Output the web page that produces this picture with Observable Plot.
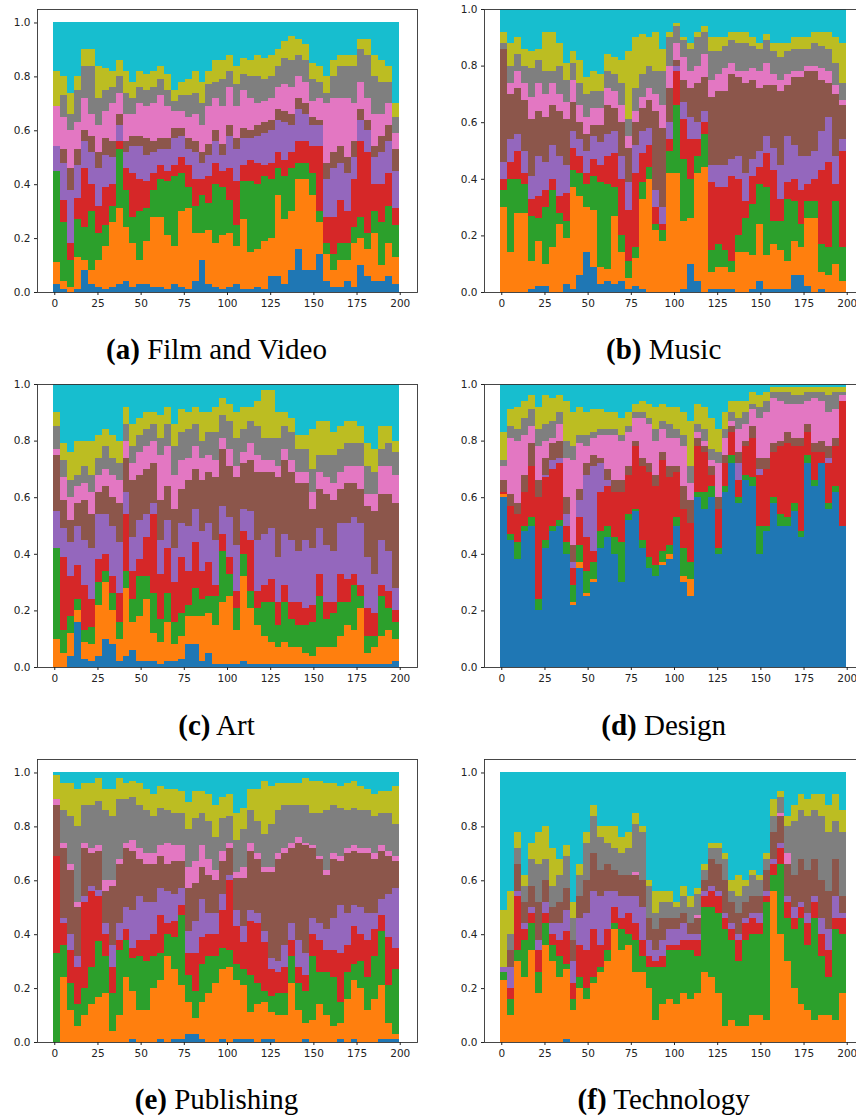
<!DOCTYPE html>
<html><head><meta charset="utf-8">
<script src="https://cdn.jsdelivr.net/npm/d3@7"></script>
<script src="https://cdn.jsdelivr.net/npm/@observablehq/plot@0.6"></script>
<style>
html,body{margin:0;padding:0;background:#fff}
body{position:relative;width:856px;height:1117px;overflow:hidden}
.p{position:absolute}
.c{position:absolute;font-family:"Liberation Serif",serif;font-size:29px;color:#000;white-space:nowrap;transform:translateX(-50%);line-height:32px}
.c b{font-weight:700}
</style></head><body>
<script>
const seriesNames = ["t0","t1","t2","t3","t4","t5","t6","t7","t8","t9"];
const seriesColors = ["#1f77b4","#ff7f0e","#2ca02c","#d62728","#9467bd","#8c564b","#e377c2","#7f7f7f","#bcbd22","#17becf"];
const xTicks = [0,25,50,75,100,125,150,175,200];
const yTicks = [0,0.2,0.4,0.6,0.8,1];
const columnStep = 4;

const film = [[3,8,34,0,9,0,15,0,13,18],[1,3,22,8,14,5,12,8,7,20],[0,2,10,6,20,8,14,6,8,26],[1,12,14,8,12,6,10,12,5,20],[8,4,12,22,10,4,12,12,6,10],[3,5,22,10,12,6,8,18,6,10],[2,10,10,10,14,6,10,10,12,16],[1,16,8,14,12,6,10,8,8,17],[2,24,6,8,10,6,14,6,6,18],[3,28,22,3,6,4,8,6,6,14],
[4,20,14,8,6,4,10,8,8,18],[2,16,10,16,10,4,8,6,6,22],[3,9,18,12,12,4,12,6,6,18],[3,16,12,10,10,6,12,6,6,19],[2,26,10,6,8,4,14,6,6,18],[2,26,14,5,6,4,16,6,5,16],[1,20,20,4,8,4,12,6,6,19],[3,14,26,4,10,4,6,4,4,25],[2,28,14,6,8,3,6,6,5,22],[1,30,8,8,6,4,8,8,6,21],
[4,18,10,10,10,4,10,8,8,18],[12,10,14,6,6,4,10,8,8,22],[3,20,10,10,8,4,14,8,5,18],[2,16,22,8,8,4,12,6,8,14],[1,20,18,6,6,4,14,10,7,14],[2,20,12,12,12,4,14,6,6,12],[3,14,8,16,12,4,12,8,7,16],[1,26,14,6,10,4,14,6,6,13],[1,14,26,8,8,3,12,8,6,14],[2,14,24,8,10,4,8,10,8,12],
[1,18,24,4,12,4,8,8,8,13],[6,14,22,6,12,4,8,8,8,12],[6,30,10,6,12,4,8,8,6,10],[3,24,16,6,14,4,10,10,6,7],[8,22,16,6,10,4,10,10,9,5],[16,26,6,8,12,4,8,8,6,6],[8,34,6,8,10,4,8,8,6,8],[8,28,8,10,8,3,6,8,6,15],[14,12,4,24,8,2,8,6,6,16],[4,10,4,10,14,6,22,4,6,20],
[2,6,6,14,18,6,20,8,6,14],[2,10,6,16,14,6,18,12,4,12],[4,8,6,12,14,6,22,12,4,12],[2,16,6,18,8,6,14,14,4,12],[10,10,8,28,8,4,10,12,4,6],[6,10,6,30,8,4,8,16,6,6],[4,18,8,10,10,4,12,14,8,12],[4,6,16,14,12,6,8,12,8,14],[6,12,14,12,12,6,8,8,6,16],[3,10,12,6,14,8,6,6,5,30]];

const music = [[0,30,6,4,6,40,0,2,4,8],[0,14,26,6,8,16,4,6,8,12],[0,28,12,10,6,16,6,6,6,10],[0,28,10,4,8,18,6,6,6,14],[1,10,16,6,8,20,8,10,6,15],[2,16,8,8,14,16,10,8,4,14],[2,8,20,6,10,16,8,8,14,8],[0,16,20,4,12,14,8,4,14,8],[0,24,4,6,14,16,6,10,8,12],[3,16,6,10,10,16,6,8,6,19],
[1,36,6,8,6,10,8,6,4,15],[6,28,8,6,6,6,6,8,8,18],[14,16,8,4,8,6,6,8,6,24],[9,20,12,6,8,4,6,6,7,22],[3,6,30,6,8,6,6,6,6,23],[4,4,30,10,8,10,6,6,6,16],[3,24,10,12,8,8,6,6,6,17],[4,10,6,20,8,12,6,8,8,18],[1,4,6,18,10,12,4,6,24,15],[2,10,4,26,10,8,4,8,18,10],
[1,32,6,10,8,8,4,8,14,9],[0,40,4,8,6,10,4,8,10,10],[0,22,2,6,6,28,6,8,14,8],[0,18,4,2,6,28,8,12,8,14],[0,42,8,4,6,12,8,10,2,8],[0,42,24,12,2,2,6,6,1,5],[1,24,22,14,6,8,8,6,1,10],[10,16,14,14,8,10,6,8,2,12],[4,38,6,6,6,14,6,10,2,8],[0,44,12,4,4,12,8,8,2,6],
[1,6,8,24,6,24,6,10,5,10],[1,8,8,20,8,26,6,8,5,10],[1,8,6,22,8,26,8,8,3,10],[1,6,4,30,6,30,4,8,3,8],[0,14,6,20,8,28,2,10,4,8],[0,14,12,6,10,32,4,10,4,8],[1,12,18,10,6,28,4,8,3,10],[4,20,14,6,6,22,6,8,2,12],[1,12,24,12,6,18,8,8,2,9],[1,16,8,18,8,22,4,8,3,12],
[1,14,10,8,12,26,4,8,5,12],[1,10,22,6,16,18,4,8,3,12],[6,12,14,8,12,24,2,8,4,10],[6,10,8,12,12,28,2,8,4,10],[2,24,6,6,10,30,2,6,4,10],[0,26,6,8,10,28,2,8,4,8],[1,6,10,26,14,18,4,8,5,8],[0,6,10,30,16,12,4,8,6,8],[0,10,22,6,10,22,3,8,9,10],[0,4,12,34,4,12,2,6,14,12]];

const art = [[0,10,32,0,13,20,2,8,5,10],[0,5,8,26,10,10,8,6,6,21],[4,8,6,14,12,8,8,6,10,24],[16,4,4,12,14,8,6,4,12,20],[3,6,4,16,16,14,6,6,9,20],[2,6,6,10,18,12,8,6,12,20],[4,18,8,8,16,8,6,6,8,18],[10,20,4,6,14,10,6,8,6,16],[8,12,6,6,18,10,8,6,8,18],[2,8,6,10,18,14,8,6,8,20],
[4,24,6,20,8,12,6,6,6,8],[6,10,8,10,12,20,6,6,8,14],[2,16,14,6,14,16,8,6,6,12],[2,22,8,14,8,16,8,6,6,10],[2,10,14,28,4,14,8,6,4,10],[1,8,8,16,12,14,16,6,8,11],[2,14,10,16,10,12,14,8,6,8],[2,6,8,14,12,14,12,10,8,14],[3,8,8,20,12,12,10,10,8,9],[8,10,4,12,16,16,8,10,6,10],
[8,10,10,16,12,14,8,8,6,8],[2,16,6,10,14,18,8,6,10,10],[5,14,6,12,14,18,6,8,7,10],[1,14,10,4,16,22,6,10,9,8],[1,22,18,6,10,20,4,8,6,5],[1,24,8,6,14,18,6,10,6,7],[1,12,8,6,16,24,4,10,9,10],[2,30,8,8,8,16,4,8,8,8],[1,20,6,18,10,18,6,8,5,8],[1,14,6,6,18,24,6,10,9,6],
[1,10,12,6,18,22,4,8,17,2],[1,8,14,8,18,20,4,8,17,2],[1,6,8,8,16,28,4,10,9,10],[1,8,14,6,18,26,4,8,5,10],[1,6,10,6,22,24,4,10,5,12],[1,6,8,8,18,24,4,8,5,18],[1,4,10,6,24,20,4,8,5,18],[1,3,12,6,20,14,6,8,14,16],[1,6,18,8,16,14,6,6,12,13],[1,6,10,6,20,18,6,8,12,13],
[1,6,12,4,18,18,6,10,8,17],[1,10,12,10,18,12,6,8,8,15],[1,14,8,8,20,14,6,8,8,13],[1,12,16,4,20,12,6,8,8,13],[1,20,4,4,22,12,8,8,6,15],[1,4,6,10,18,18,4,10,8,21],[1,6,4,8,14,22,6,8,8,23],[1,10,14,4,16,16,10,6,8,15],[1,12,8,6,14,20,10,8,6,15],[2,8,6,4,8,30,10,8,4,20]];

const design = [[60,1,0,1,0,4,5,2,10,17],[45,0,2,10,0,4,20,4,6,9],[38,0,6,10,0,4,22,4,8,8],[48,0,2,12,0,6,14,6,6,6],[50,0,3,18,0,8,6,6,5,4],[20,0,4,36,0,6,12,6,8,8],[42,0,3,22,1,6,6,6,10,4],[48,0,2,20,3,6,2,6,8,5],[50,0,2,20,2,6,6,4,6,4],[40,0,4,6,4,6,14,6,14,6],
[22,1,6,6,2,6,30,5,12,10],[35,2,6,10,6,4,16,3,10,8],[25,1,8,12,22,4,6,4,8,10],[30,1,6,4,30,4,6,2,8,9],[42,0,6,14,10,2,8,2,7,9],[46,0,4,14,2,4,12,2,6,10],[40,0,6,16,0,4,16,2,6,10],[30,0,14,18,0,4,14,2,6,12],[52,0,2,14,0,3,12,2,5,10],[55,0,1,22,0,2,8,2,3,7],
[42,0,3,26,0,3,14,2,4,6],[35,0,4,30,0,3,14,2,5,7],[32,0,4,28,0,4,12,4,8,8],[36,1,4,32,0,3,8,3,6,7],[38,2,3,24,0,4,10,5,6,8],[50,0,3,16,0,2,10,3,8,8],[30,2,10,14,0,8,14,4,8,10],[25,6,6,14,0,8,6,6,16,13],[60,0,2,16,0,3,2,3,7,7],[56,0,6,14,0,2,2,4,8,8],
[60,0,4,4,0,3,2,4,11,12],[40,0,2,14,0,4,12,4,8,16],[62,0,2,8,0,3,6,3,6,10],[72,0,3,8,0,2,2,3,4,6],[58,0,2,6,6,4,8,4,6,6],[66,0,2,10,0,2,6,4,4,6],[64,0,3,14,0,4,6,2,4,3],[40,0,10,18,2,4,14,4,4,4],[48,0,2,20,0,4,16,4,3,3],[58,0,2,16,0,3,16,2,2,1],
[50,0,4,24,0,2,14,3,2,1],[50,0,3,26,0,4,10,4,2,1],[55,0,3,20,0,3,12,3,3,1],[46,0,2,30,0,3,12,3,3,1],[72,0,3,8,0,3,8,3,2,1],[64,0,2,10,0,3,16,2,2,1],[72,0,0,4,0,4,14,3,2,1],[56,0,2,14,2,4,12,6,3,1],[62,0,2,14,0,3,10,6,2,1],[50,0,0,44,0,0,2,1,2,1]];

const publishing = [[0,0,33,36,0,19,2,0,9,1],[0,24,12,8,2,26,2,12,10,4],[0,12,10,12,6,24,2,18,12,4],[0,6,8,14,4,18,2,28,14,6],[0,10,10,32,2,18,2,14,8,4],[0,14,14,28,2,12,2,16,8,4],[0,16,20,16,2,14,2,16,8,2],[0,18,14,8,4,12,4,26,8,6],[0,4,14,10,8,22,2,24,10,6],[0,10,24,4,6,22,2,22,8,2],
[0,24,14,4,8,22,2,16,6,4],[1,18,12,4,14,22,4,16,6,3],[0,12,20,6,16,14,4,16,8,4],[0,12,18,8,14,14,4,16,8,6],[0,20,12,8,12,14,4,14,8,8],[1,22,10,14,10,12,4,14,8,5],[0,32,8,4,12,10,8,12,8,6],[1,26,12,6,10,12,6,12,9,6],[1,20,26,4,6,10,6,12,8,7],[3,12,10,8,8,16,8,14,10,11],
[3,6,10,14,12,14,8,16,10,7],[1,14,14,10,14,12,8,12,8,7],[0,18,14,8,8,14,6,14,10,8],[0,22,10,8,8,12,4,12,12,12],[1,26,8,14,6,12,4,12,8,9],[0,28,6,26,2,10,2,10,8,8],[1,22,6,14,6,12,2,12,10,15],[1,20,6,10,6,18,4,14,8,13],[1,10,14,20,4,22,3,12,8,6],[0,14,8,22,4,20,2,12,12,6],
[1,14,4,18,4,22,2,12,20,3],[1,10,6,10,4,32,2,16,14,5],[0,10,8,8,4,38,2,16,10,4],[0,10,8,10,8,34,2,16,8,4],[0,22,10,6,6,28,2,14,8,4],[0,12,10,6,10,36,2,12,8,4],[1,6,12,6,8,40,1,14,10,2],[0,8,24,8,6,26,1,12,12,3],[0,14,12,12,6,24,1,16,12,3],[0,10,16,8,8,20,2,22,10,4],
[0,6,18,10,12,22,2,18,8,4],[1,6,8,18,18,16,2,18,8,5],[0,16,10,10,12,22,2,14,10,4],[1,22,6,14,8,20,2,14,10,3],[0,20,10,10,10,20,2,14,9,5],[0,12,12,14,10,22,2,14,8,6],[0,16,16,10,6,20,2,14,8,8],[1,20,20,6,6,18,2,12,8,7],[1,6,14,18,16,14,2,14,8,7],[1,2,24,8,22,10,2,12,14,5]];

const technology = [[0,23,3,0,2,0,0,0,21,51],[0,10,6,4,8,6,0,6,16,44],[0,30,4,20,2,10,0,6,6,22],[0,24,14,4,2,8,0,6,4,38],[0,34,10,4,2,8,0,10,6,26],[0,18,8,8,4,14,0,14,12,22],[0,36,8,4,4,8,0,8,12,20],[0,30,6,4,4,6,0,8,14,28],[0,24,8,6,6,8,0,10,6,32],[1,26,2,12,8,8,0,12,4,27],
[0,12,4,6,8,8,0,8,6,48],[0,20,4,12,10,8,0,8,4,34],[0,16,4,14,14,12,0,14,4,22],[0,22,2,18,14,14,0,14,4,12],[0,26,2,8,18,10,0,12,4,20],[0,30,4,8,14,10,0,8,6,20],[0,42,2,6,6,8,0,8,8,20],[0,34,8,4,8,8,0,8,6,24],[0,36,4,8,6,8,0,10,6,22],[0,26,12,6,10,8,1,18,4,15],
[0,26,6,6,12,10,0,18,2,20],[0,20,8,4,6,8,0,12,2,40],[0,8,20,2,4,8,0,6,8,44],[0,14,14,4,6,8,0,6,4,44],[0,16,18,2,6,4,0,6,4,44],[0,14,20,2,6,4,0,4,2,48],[0,18,16,4,6,4,0,6,4,42],[0,16,18,4,2,4,0,6,4,46],[0,18,14,6,2,6,1,8,2,43],[0,26,24,4,2,4,0,4,2,34],
[0,24,26,6,2,10,0,4,2,26],[0,18,30,6,2,10,0,6,2,26],[0,6,36,4,2,12,0,8,2,30],[0,8,30,4,2,8,0,4,4,40],[0,6,24,8,2,8,0,6,8,38],[0,6,32,6,2,6,0,6,2,40],[0,10,30,6,2,6,0,8,2,36],[0,10,30,4,4,6,0,6,2,38],[0,8,44,2,2,8,0,4,2,30],[0,56,6,4,2,10,0,6,6,10],
[0,40,26,6,2,10,1,6,2,7],[0,30,16,6,2,12,4,10,4,16],[0,20,22,4,4,12,0,20,6,12],[0,14,32,4,2,16,0,18,6,8],[0,12,24,8,4,16,0,20,6,10],[0,8,38,6,2,14,0,18,6,8],[0,10,22,8,6,14,0,24,8,8],[0,10,14,10,8,14,0,22,10,12],[0,8,34,4,8,14,0,14,10,8],[0,18,22,6,2,6,0,24,8,14]];

const panels = [
 {rows:film,letter:"(a)",name:"Film and Video",col:0,frameTop:9,yMax:1.05,capTop:333},
 {rows:music,letter:"(b)",name:"Music",col:1,frameTop:9,yMax:1,capTop:333},
 {rows:art,letter:"(c)",name:"Art",col:0,frameTop:384,yMax:1,capTop:709},
 {rows:design,letter:"(d)",name:"Design",col:1,frameTop:384,yMax:1,capTop:709},
 {rows:publishing,letter:"(e)",name:"Publishing",col:0,frameTop:759,yMax:1.05,capTop:1083},
 {rows:technology,letter:"(f)",name:"Technology",col:1,frameTop:759,yMax:1.05,capTop:1083}
];

for (const p of panels) {
  const long = p.rows.flatMap((r,i)=>r.map((v,s)=>({x:i*columnStep,x0:i*columnStep-0.5,x1:i*columnStep+columnStep-0.5,series:seriesNames[s],share:v})));
  const left = p.col===0 ? 0 : 430;
  const ml = p.col===0 ? 37 : 54;
  const w = ml+380+16;
  const chart = Plot.plot({
    width:w, height:318, marginLeft:ml, marginRight:16, marginTop:5, marginBottom:30,
    style:{fontFamily:"'DejaVu Sans',sans-serif",fontSize:"10.5px",color:"#222",background:"transparent",overflow:"visible"},
    x:{domain:[-10,210],ticks:xTicks,label:null},
    y:{domain:[0,p.yMax],ticks:yTicks,label:null},
    color:{domain:seriesNames,range:seriesColors},
    marks:[
      Plot.rect(long,Plot.stackY({x:"x",x1:"x0",x2:"x1",y:"share",z:"series",fill:"series",offset:"normalize",shapeRendering:"crispEdges"})),
      Plot.frame({stroke:"#333",strokeWidth:0.9}),
      Plot.axisX({ticks:xTicks,tickSize:3,tickPadding:4,label:null,tickFormat:d=>String(d)}),
      Plot.axisY({ticks:yTicks,tickSize:3,tickPadding:4,label:null,tickFormat:d=>d.toFixed(1)})
    ]
  });
  chart.classList.add("p");
  chart.style.left=left+"px"; chart.style.top=(p.frameTop-5)+"px";
  document.body.appendChild(chart);
  const cap=document.createElement("div");
  cap.className="c";
  cap.style.left=(p.col===0?216.5:663.7)+"px";
  cap.style.top=p.capTop+"px";
  cap.innerHTML="<b>"+p.letter+"</b> "+p.name;
  document.body.appendChild(cap);
}
</script>
</body></html>
